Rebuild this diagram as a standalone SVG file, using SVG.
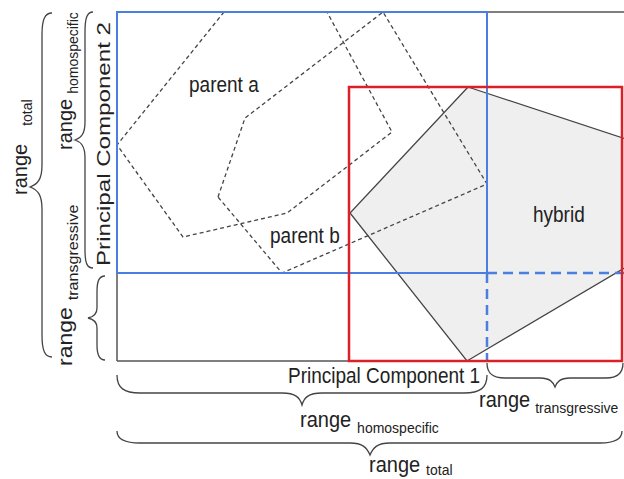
<svg xmlns="http://www.w3.org/2000/svg" width="624" height="479" viewBox="0 0 624 479">
<style>
text{font-family:"Liberation Sans",Arial,sans-serif;fill:#222}
.lbl{font-size:19px}
.rg{font-size:20px}
.sub{font-size:14px}
.axis{stroke:#555;stroke-width:1.5;fill:none}
.blue{stroke:#4a7ee0;stroke-width:2;fill:none}
.bluedash{stroke:#4a7ee0;stroke-width:2.5;fill:none;stroke-dasharray:10 6}
.red{stroke:#dd1f26;stroke-width:2.5;fill:none}
.par{stroke:#444;stroke-width:1.3;fill:none;stroke-dasharray:4 3}
.brace{stroke:#444;stroke-width:1.3;fill:none}
</style>
<rect width="624" height="479" fill="#fff"/>
<g id="hybrid">
<polygon points="468,87 626,139 626,267 467,361 350,213" fill="#efefef" stroke="#444" stroke-width="1.3"/>
<text class="lbl" transform="translate(533,222) scale(1,1.15)">hybrid</text>
</g>
<g id="parent-a">
<polyline class="par" points="224,12 117,145 183,237 287,213 392,132 327,12"/>
<text class="lbl" transform="translate(189,92) scale(1,1.15)">parent a</text>
</g>
<g id="parent-b">
<polygon class="par" points="218,197 245,118 383,12 487,184 282,273"/>
<text class="lbl" transform="translate(270,243) scale(1,1.15)">parent b</text>
</g>
<g id="axes">
<line class="axis" x1="487" y1="12" x2="624" y2="12"/>
<line class="axis" x1="117" y1="273" x2="117" y2="361"/>
<line class="axis" x1="117" y1="361" x2="350" y2="361"/>
</g>
<g id="homospecific-box">
<polyline class="blue" points="487,273 487,12 117,12 117,273 487,273"/>
<line class="bluedash" x1="487" y1="273" x2="624" y2="273"/>
<line class="bluedash" x1="487" y1="273" x2="487" y2="361"/>
</g>
<g id="total-box">
<rect class="red" x="349" y="87" width="273" height="274"/>
</g>
<g id="connectors">
<path class="brace" d="M117,375 C117,388 124,393 140,393 L282,393 C296,393 300,398 302,405 C304,398 308,393 322,393 L464,393 C480,393 487,388 487,375"/>
<path class="brace" d="M487,363 C487,373 492,378 505,378 L540,378 C550,378 553,382 555,387 C557,382 560,378 570,378 L606,378 C618,378 623,373 623,363"/>
<path class="brace" d="M117,431 C117,439 124,443 140,443 L350,443 C363,443 367,448 370,455 C373,448 377,443 390,443 L600,443 C615,443 622,439 622,431"/>
<path class="brace" d="M52,13 C45,13 42,19 42,35 L42,165 C42,179 38,184 30,187 C38,190 42,195 42,209 L42,335 C42,351 45,357 52,357"/>
<path class="brace" d="M93,12 C87,12 85,18 85,32 L85,122 C85,134 81,138 75,140 C81,142 85,146 85,158 L85,250 C85,263 87,268 93,268"/>
<path class="brace" d="M105,276 C99,276 97,281 97,292 L97,308 C97,314 93,317 88,318 C93,319 97,322 97,328 L97,345 C97,355 99,360 105,360"/>
</g>
<g id="labels">
<text class="lbl" transform="translate(288,383) scale(1,1.15)">Principal Component 1</text>
<text class="rg" transform="translate(479,407) scale(1,1.1)">range<tspan class="sub" dx="5" dy="5">transgressive</tspan></text>
<text class="rg" transform="translate(300,427) scale(1,1.1)">range<tspan class="sub" dx="6" dy="5">homospecific</tspan></text>
<text class="rg" transform="translate(369,472) scale(1,1.1)">range<tspan class="sub" dx="6" dy="3">total</tspan></text>
<text class="lbl" transform="translate(110,144) scale(1,1.27) rotate(-90)" text-anchor="middle">Principal Component 2</text>
<text class="rg" transform="translate(72,150) rotate(-90)">range<tspan class="sub" dx="5" dy="6">homospecific</tspan></text>
<text class="rg" transform="translate(72,366) scale(1,1.15) rotate(-90)">range<tspan class="sub" dx="6" dy="6">transgressive</tspan></text>
<text class="rg" transform="translate(27,195) rotate(-90)">range<tspan class="sub" dx="18" dy="5">total</tspan></text>
</g>
</svg>
